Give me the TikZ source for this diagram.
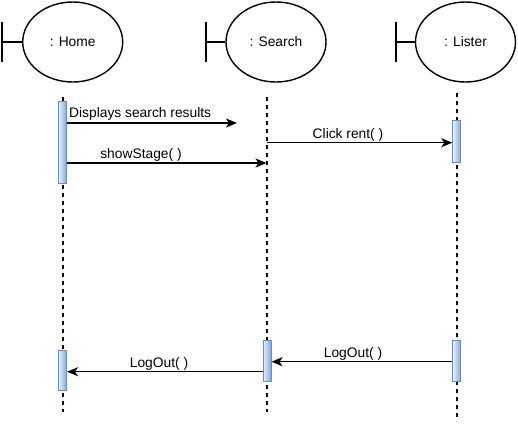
\documentclass[tikz,border=0pt]{standalone}
\usepackage{fontspec}
\setmainfont{Liberation Sans}
\usetikzlibrary{arrows.meta,shapes.geometric}
\definecolor{actfill1}{HTML}{DAE8FC}
\definecolor{actfill2}{HTML}{7EA6E0}
\definecolor{actline}{HTML}{6C8EBF}
\tikzset{
  obj/.style={ellipse,draw,line width=1.4pt,minimum width=100pt,minimum height=80pt,inner sep=0pt,font=\fontsize{13.8}{15}\selectfont},
  bnd/.style={line width=1.4pt},
  life/.style={line width=2pt,dash pattern=on 4pt off 4pt},
  act/.style={rectangle,draw=actline,line width=1pt,left color=actfill1!60!white,right color=actfill2,minimum width=8pt,inner sep=0pt},
  msg/.style={line width=1.5pt,-{Stealth[length=11pt,width=9pt,inset=3pt]}},
  lbl/.style={inner sep=0pt,font=\fontsize{13.8}{15}\selectfont}
}
\begin{document}
\begin{tikzpicture}[x=1pt,y=-1pt]
\useasboundingbox[fill=white] (0,0) rectangle (518,424);
% objects
\node[obj] (home) at (72.7,42) {: Home};
\node[obj] (search) at (276,42) {: Search};
\node[obj] (lister) at (465.5,42) {: Lister};
% boundary symbols
\coordinate (hbt) at (2,22); \coordinate (hbb) at (2,62); \coordinate (hbm) at (2,42);
\coordinate (sbt) at (206,22); \coordinate (sbb) at (206,62); \coordinate (sbm) at (206,42);
\coordinate (lbt) at (396,22); \coordinate (lbb) at (396,62); \coordinate (lbm) at (396,42);
\draw[bnd] (hbt) -- (hbb); \draw[bnd] (hbm) -- (home.west);
\draw[bnd] (sbt) -- (sbb); \draw[bnd] (sbm) -- (search.west);
\draw[bnd] (lbt) -- (lbb); \draw[bnd] (lbm) -- (lister.west);
% lifelines
\coordinate (hl0) at (62.5,97); \coordinate (hl1) at (62.5,412);
\coordinate (sl0) at (266.5,97); \coordinate (sl1) at (266.5,412);
\coordinate (ll0) at (456.5,93); \coordinate (ll1) at (456.5,421);
\draw[life] (hl0) -- (hl1);
\draw[life] (sl0) -- (sl1);
\draw[life] (ll0) -- (ll1);
% activations
\node[act,minimum height=81.6pt] (h1) at (62.5,142.5) {};
\node[act,minimum height=40pt] (h2) at (62.5,370.7) {};
\node[act,minimum height=40.3pt] (s2) at (267,360.9) {};
\node[act,minimum height=41.6pt] (l1) at (456.8,141.5) {};
\node[act,minimum height=40.3pt] (l2) at (456.8,360.9) {};
% messages
\coordinate (dsr) at (237,123);
\coordinate (ss) at (266.5,163);
\coordinate (cr) at (266.5,142.7);
\coordinate (lo1) at (0,361.7);
\coordinate (lo2) at (0,371.7);
\draw[msg] (h1.east |- dsr) -- (dsr);
\draw[msg] (h1.east |- ss) -- (ss);
\draw[msg] (cr) -- (l1.west |- cr);
\draw[msg] (l2.west |- lo1) -- (s2.east |- lo1);
\draw[msg] (s2.west |- lo2) -- (h2.east |- lo2);
% labels
\node[lbl,anchor=west] (t1) at (69,114) {Displays search results};
\node[lbl] (t2) at (141,155) {showStage( )};
\node[lbl] (t3) at (348,134.5) {Click rent( )};
\node[lbl] (t4) at (353,353.5) {LogOut( )};
\node[lbl] (t5) at (159,363.5) {LogOut( )};
\end{tikzpicture}
\end{document}
